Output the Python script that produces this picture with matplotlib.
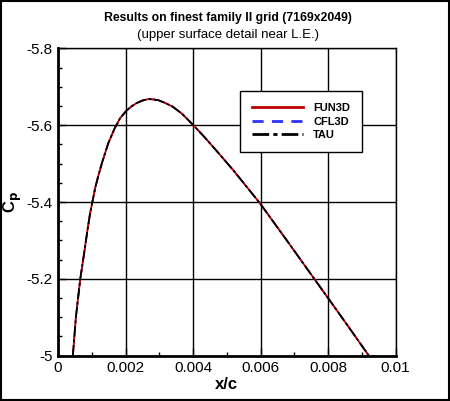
import matplotlib
matplotlib.use("Agg")
import matplotlib.pyplot as plt
from matplotlib.patches import Rectangle
from matplotlib.ticker import FixedLocator, MultipleLocator, FuncFormatter

plt.rcParams["font.family"] = ["Liberation Sans", "DejaVu Sans"]

# x/c and Cp (all three codes lie on top of each other)
x_c = [0.00044, 0.00053, 0.00066, 0.00078, 0.00087, 0.00095, 0.00103, 0.00110,
       0.00120, 0.00130, 0.00149, 0.00168, 0.00184, 0.00203, 0.00218, 0.00232,
       0.00250, 0.00268, 0.00282, 0.00297, 0.00317, 0.00340, 0.00367, 0.00401,
       0.00435, 0.00470, 0.00520, 0.00599, 0.00678, 0.00761, 0.00801, 0.00865,
       0.00921]
cp_fun3d = [-5.000, -5.100, -5.200, -5.270, -5.325, -5.370, -5.405, -5.436,
            -5.470, -5.501, -5.553, -5.592, -5.618, -5.638, -5.649, -5.657,
            -5.664, -5.668, -5.667, -5.665, -5.658, -5.648, -5.630, -5.600,
            -5.568, -5.533, -5.482, -5.396, -5.300, -5.198, -5.149, -5.070,
            -5.000]
cp_cfl3d = list(cp_fun3d)
cp_tau = list(cp_fun3d)

labels = ["FUN3D", "CFL3D", "TAU"]
x_ticks = [0, 0.002, 0.004, 0.006, 0.008, 0.01]
y_ticks = [-5.8, -5.6, -5.4, -5.2, -5.0]

fig = plt.figure(figsize=(4.5, 4.01), dpi=100)
ax = fig.add_axes([58 / 450, 1 - 355.7 / 401, 337.5 / 450, 307.4 / 401])

l_cfl, = ax.plot(x_c, cp_cfl3d, color="#3030ff", lw=1.2, ls=(0, (4, 3)), label=labels[1])
l_fun, = ax.plot(x_c, cp_fun3d, color="#c00000", lw=1.3, ls="-", label=labels[0])
l_tau, = ax.plot(x_c, cp_tau, color="black", lw=1.3, ls=(0, (6, 1.5, 1.5, 1.5)), label=labels[2])

ax.set_xlim(0, 0.01)
ax.set_ylim(-5.0, -5.8)
ax.xaxis.set_major_locator(FixedLocator(x_ticks))
ax.yaxis.set_major_locator(FixedLocator(y_ticks))
ax.xaxis.set_minor_locator(MultipleLocator(0.001))
ax.yaxis.set_minor_locator(MultipleLocator(0.05))
fmt = FuncFormatter(lambda v, p: "%g" % round(v, 6))
ax.xaxis.set_major_formatter(fmt)
ax.yaxis.set_major_formatter(fmt)

ax.grid(True, which="major", color="black", lw=1.0)
ax.tick_params(which="both", direction="in", top=False, right=False,
               labelsize=11, width=1)
ax.tick_params(which="major", length=6, pad=4)
ax.tick_params(which="minor", length=3)
for s in ("left", "bottom"):
    ax.spines[s].set_linewidth(2)
for s in ("top", "right"):
    ax.spines[s].set_linewidth(1)

ax.set_xlabel("x/c", fontsize=12, fontweight="bold", labelpad=1)
ax.set_ylabel(r"C$_\mathbf{p}$", fontsize=12, fontweight="bold", labelpad=2)

leg = ax.legend([l_fun, l_cfl, l_tau], labels,
                loc="upper left", bbox_to_anchor=(0.539, 0.861), borderaxespad=0,
                fancybox=False, edgecolor="black", framealpha=1,
                prop={"size": 8, "weight": "bold"}, handlelength=4.6,
                labelspacing=0.3, borderpad=1.1, handletextpad=0.9)
leg.get_frame().set_linewidth(1)
for line in leg.get_lines():
    line.set_linewidth(2)

fig.text(0.506, 1 - 18 / 401, "Results on finest family II grid (7169x2049)",
         ha="center", va="center", fontsize=8.8, fontweight="bold")
fig.text(0.506, 1 - 35 / 401, "(upper surface detail near L.E.)",
         ha="center", va="center", fontsize=9.5)

fig.patches.append(Rectangle((0.002, 0.003), 0.996, 0.994, transform=fig.transFigure,
                             fill=False, edgecolor="black", lw=1.5))

fig.savefig("out.png", dpi=100)
